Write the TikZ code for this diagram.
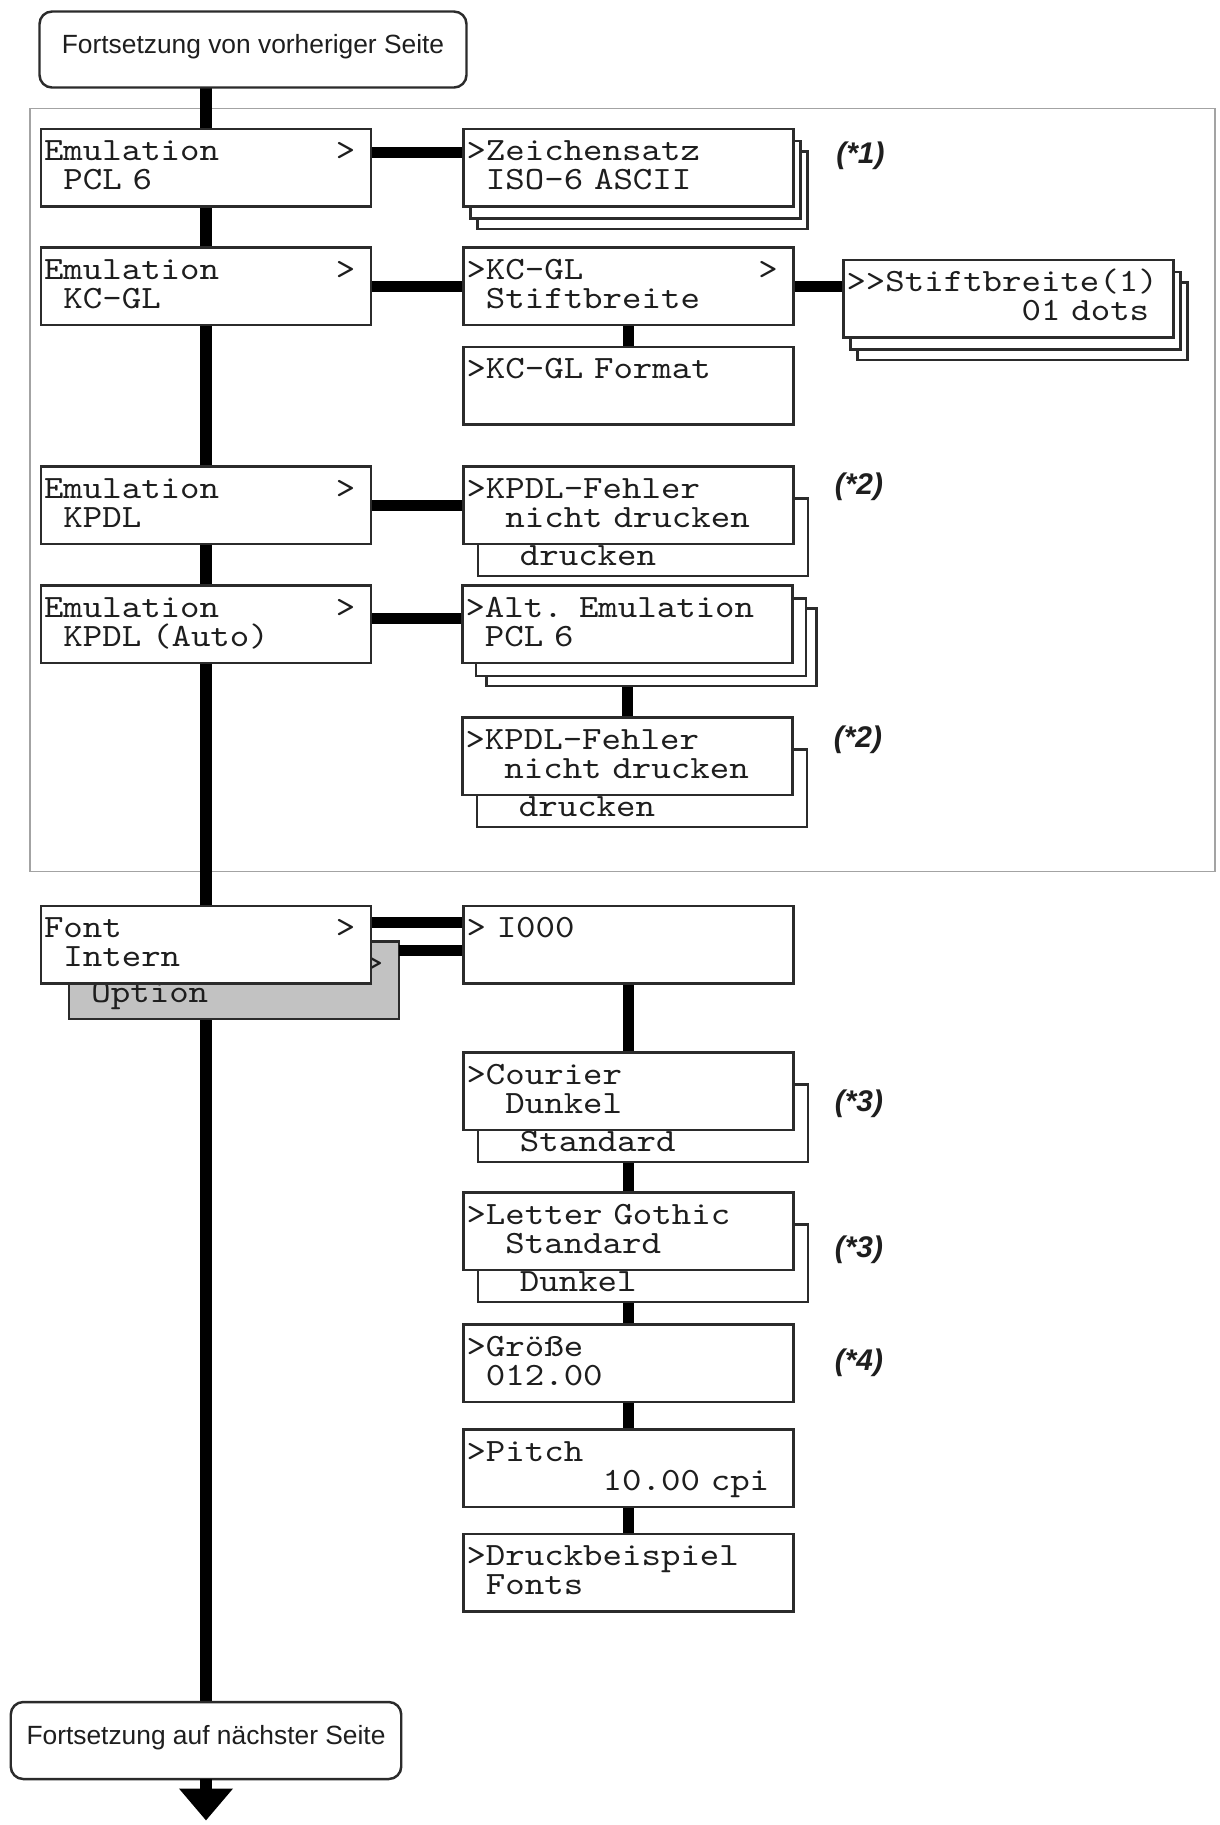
\documentclass[tikz,border=0pt]{standalone}
\usepackage{fontspec}
\usepackage{tikz}
\usetikzlibrary{positioning,shadows,arrows.meta,backgrounds}
\newfontfamily\capfont{Liberation Sans}
\newfontfamily\lcdfont[FakeStretch=1.14]{lmmono10-regular.otf}
\definecolor{boxline}{HTML}{2B2B2B}
\definecolor{framegrey}{HTML}{A3A3A3}
\definecolor{optgrey}{HTML}{C2C2C2}
\definecolor{inktext}{HTML}{1E1E1E}
\newcommand{\lcd}{\lcdfont\fontsize{18.5pt}{16.5pt}\selectfont\lineskiplimit=-\maxdimen}
\newcommand{\mgap}[1]{\hspace*{#1\dimexpr0.5985em\relax}}
\newcommand{\topst}{\rule{0pt}{12.7pt}}
\newcommand{\botst}{\rule[-4.1pt]{0pt}{4.1pt}}

\begin{document}
\begin{tikzpicture}[
  menu/.style={rectangle, draw=boxline, fill=white, line width=1.2pt, text=inktext, outer sep=0pt,
    minimum width=6.6cm, minimum height=1.55cm, text width=6.48cm, inner xsep=0.06cm,
    inner ysep=0pt, align=left, font=\lcd, execute at begin node=\topst, execute at end node=\botst},
  pile/.style={menu, execute at begin node=\rule{0pt}{19.3pt}},
  opt/.style={menu, fill=optgrey},
  stack/.style={copy shadow={shadow xshift=0.28cm,shadow yshift=-0.45cm},
    copy shadow={shadow xshift=0.14cm,shadow yshift=-0.24cm}},
  widestack/.style={copy shadow={shadow xshift=0.48cm,shadow yshift=-0.46cm},
    copy shadow={shadow xshift=0.27cm,shadow yshift=-0.26cm}},
  cont/.style={rectangle, draw=boxline, fill=white, line width=1.4pt, rounded corners=0.25cm,
    text=inktext, inner sep=0pt, outer sep=0pt, font=\capfont\fontsize{15pt}{18pt}\selectfont,
    text height=11pt, text depth=6.2pt},
  note/.style={inner sep=0pt, text=inktext, font=\capfont\bfseries\itshape\fontsize{17pt}{20pt}\selectfont},
  link/.style={line width=6.5pt, draw=black},
  block/.style={draw=framegrey, line width=1.1pt}
]
\useasboundingbox (0,0) rectangle (24.4,-36.5);
% previous page
\node[cont, minimum width=8.54cm, minimum height=1.52cm] (prev) at (5.06,-0.99) {Fortsetzung von vorheriger Seite};
% left column
\node[menu, below right=0.83cm and 0.03cm of prev.south west] (emu1) {Emulation\mgap{6}>\\\mgap{1}PCL 6};
\node[menu, below=0.82cm of emu1] (emu2) {Emulation\mgap{6}>\\\mgap{1}KC-GL};
\node[menu, below=2.83cm of emu2] (emu3) {Emulation\mgap{6}>\\\mgap{1}KPDL};
\node[menu, below=0.83cm of emu3] (emu4) {Emulation\mgap{6}>\\\mgap{1}KPDL (Auto)};
\node[menu, below=4.86cm of emu4] (font) {Font\mgap{11}>\\\mgap{1}Intern};
\node[cont, minimum width=7.81cm, minimum height=1.54cm, below=14.37cm of font] (next) {Fortsetzung auf nächster Seite};
% right column
\node[menu, stack, right=1.85cm of emu1] (zs) {>Zeichensatz\\\mgap{1}ISO-6 ASCII};
\node[menu, right=1.85cm of emu2] (kcgl) {>KC-GL\mgap{9}>\\\mgap{1}Stiftbreite};
\node[menu, below=0.44cm of kcgl] (kcfmt) {>KC-GL Format\\};
\node[menu, stack, right=1.0cm of kcgl, yshift=-0.25cm] (pen) {>>Stiftbreite(1)\\\mgap{9}01 dots};
\node[menu, right=1.85cm of emu3] (kerr1) {>KPDL-Fehler\\\mgap{2}nicht drucken};
\node[menu, widestack, right=1.83cm of emu4] (alt) {>Alt. Emulation\\\mgap{1}PCL 6};
\node[menu, below=1.09cm of alt] (kerr2) {>KPDL-Fehler\\\mgap{2}nicht drucken};
\node[menu, right=1.85cm of font] (i000) {> I000\\};
\node[menu, below=1.38cm of i000] (cour) {>Courier\\\mgap{2}Dunkel};
\node[menu, below=1.25cm of cour] (letg) {>Letter Gothic\\\mgap{2}Standard};
\node[menu, below=1.09cm of letg] (size) {>Größe\\\mgap{1}012.00};
\node[menu, below=0.55cm of size] (pitch) {>Pitch\\\mgap{7}10.00 cpi};
\node[menu, below=0.54cm of pitch] (demo) {>Druckbeispiel\\\mgap{1}Fonts};
% notes
\node[note, right=0.85cm of zs, yshift=0.24cm] (n1) {(*1)};
\node[note, right=0.82cm of kerr1, yshift=0.36cm] (n2a) {(*2)};
\node[note, right=0.82cm of kerr2, yshift=0.33cm] (n2b) {(*2)};
\node[note, right=0.82cm of cour, yshift=-0.25cm] (n3a) {(*3)};
\node[note, right=0.82cm of letg, yshift=-0.37cm] (n3b) {(*3)};
\node[note, right=0.82cm of size] (n4) {(*4)};
% next page
\coordinate[below=0.83cm of next.south] (tip);
\draw[link, -{Triangle[width=1.04cm,length=0.64cm]}] (next.south) -- (tip);

\begin{pgfonlayer}{background}
\draw[block] (0.6,-2.17) rectangle (24.3,-17.43);
\draw[link] (prev -| emu1) -- (next);
\draw[link] ([yshift=0.3cm]emu1.center) -- ([yshift=0.3cm]emu1.center -| zs.center);
\draw[link] (emu2) -- (kcgl); \draw[link] (kcgl) -- (kcgl -| pen); \draw[link] (kcgl) -- (kcfmt);
\draw[link] (emu3) -- (kerr1);
\draw[link] ([yshift=0.12cm]emu4.center) -- ([yshift=0.12cm]alt.center); \draw[link] (alt) -- (kerr2);
\draw[link] ([yshift=0.45cm]font.center) -- ([yshift=0.45cm]i000.center);
\draw[link] (i000) -- (cour); \draw[link] (cour) -- (letg); \draw[link] (letg) -- (size);
\draw[link] (size) -- (pitch); \draw[link] (pitch) -- (demo);
\node[opt] (fontopt) at ([shift={(0.56,-0.71)}]font) {\mgap{15}>\\\mgap{1}Option};
\draw[link] ([yshift=0.6cm]fontopt.east) -- ([yshift=0.6cm]fontopt.east -| i000.west);
\node[pile] (kerr1b) at ([shift={(0.29,-0.64)}]kerr1) {\\\mgap{2}drucken};
\node[pile] (kerr2b) at ([shift={(0.29,-0.64)}]kerr2) {\\\mgap{2}drucken};
\node[pile] (courb) at ([shift={(0.29,-0.64)}]cour) {\\\mgap{2}Standard};
\node[pile] (letgb) at ([shift={(0.29,-0.64)}]letg) {\\\mgap{2}Dunkel};
\end{pgfonlayer}
\end{tikzpicture}
\end{document}
